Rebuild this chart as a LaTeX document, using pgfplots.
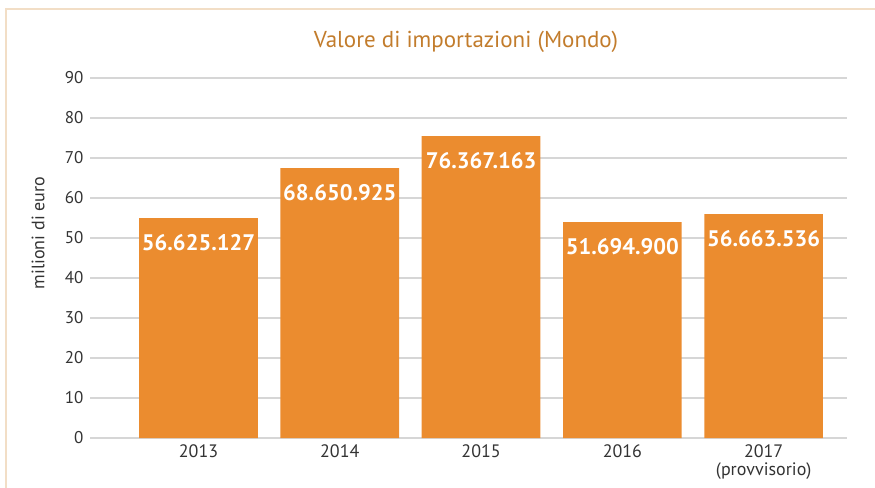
\documentclass[border=0pt]{standalone}
\usepackage{fontspec}
\setmainfont{PT Sans}
\usepackage{pgfplots}
\pgfplotsset{compat=1.18}
\definecolor{barorange}{HTML}{EB8C2F}
\definecolor{titlebrown}{HTML}{C27C2C}
\definecolor{framecol}{HTML}{F2DEC6}
\definecolor{gridgray}{HTML}{D6D6D6}
\definecolor{ticktext}{HTML}{333333}
\begin{document}
\begin{tikzpicture}
\useasboundingbox (0,0) rectangle (875bp,488bp);
\draw[framecol, line width=1.5bp] (6bp,0) -- (6bp,479bp) -- (875bp,479bp);
\begin{axis}[
  at={(90bp,50bp)}, anchor=south west,
  scale only axis, width=757bp, height=360bp,
  xmin=-0.768, xmax=4.59, ymin=0, ymax=90,
  ytick={0,10,...,90},
  xtick={0,1,2,3,4},
  xticklabels={2013,2014,2015,2016,{2017\\(provvisorio)}},
  xticklabel style={align=center, font=\fontsize{18bp}{18.5bp}\selectfont, text=ticktext, yshift=-3bp},
  yticklabel style={font=\fontsize{17bp}{18bp}\selectfont, text=ticktext, xshift=-3bp},
  /pgf/number format/assume math mode=true,
  major tick length=0,
  axis line style={draw=none},
  ymajorgrids, grid style={gridgray, line width=1.4bp},
  ybar, bar width=0.84, bar shift=0,
  point meta=explicit symbolic,
  nodes near coords={\pgfplotspointmeta},
  every node near coord/.style={anchor=center, yshift=-25bp, text=white,
    font=\fontsize{22.5bp}{24bp}\selectfont\bfseries},
  clip=false,
]
\addplot[fill=barorange, draw=none] coordinates {
  (0,55.0) [56.625.127]
  (1,67.5) [68.650.925]
  (2,75.5) [76.367.163]
  (3,54.0) [51.694.900]
  (4,56.0) [56.663.536]
};
\end{axis}
\node[titlebrown, font=\fontsize{23bp}{26bp}\selectfont] at (466bp,446bp) {Valore di importazioni (Mondo)};
\node[ticktext, rotate=90, font=\fontsize{18bp}{20bp}\selectfont] at (38bp,255bp) {milioni di euro};
\end{tikzpicture}
\end{document}
